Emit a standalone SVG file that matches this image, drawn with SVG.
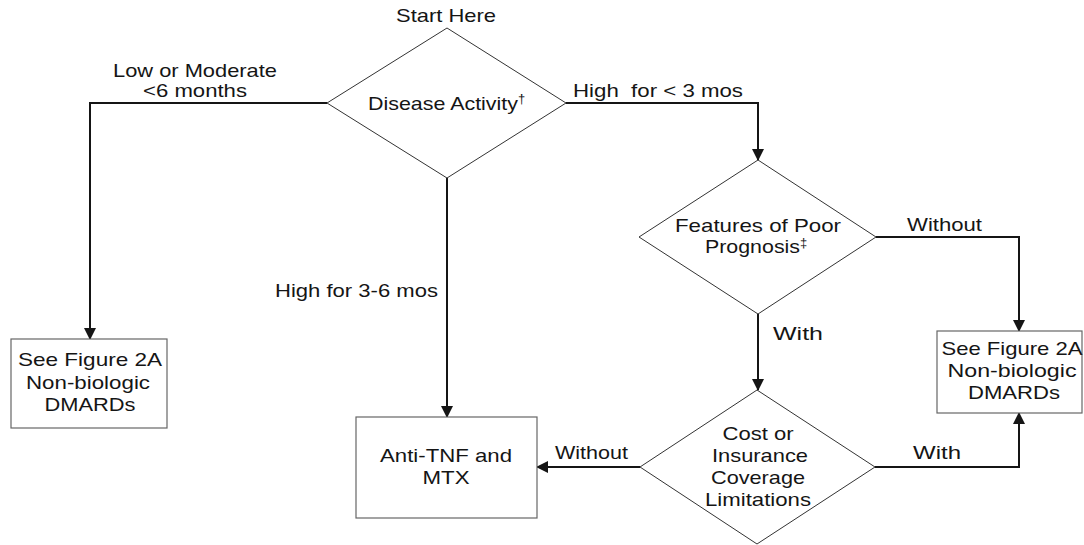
<svg xmlns="http://www.w3.org/2000/svg" width="1084" height="545" viewBox="0 0 1084 545">
  <style>
    text { font-family: "Liberation Sans", Arial, sans-serif; font-size: 19px; fill: #151515; }
    .mid { text-anchor: middle; }
    .sup { font-size: 13px; }
    .diamond { fill: #fff; stroke: #333; stroke-width: 1; }
    .box { fill: #fff; stroke: #666; stroke-width: 1.2; }
    .conn { fill: none; stroke: #151515; stroke-width: 2; }
  </style>
  <defs>
    <marker id="arrow" viewBox="0 0 12 12" refX="11" refY="6" markerWidth="12" markerHeight="13" markerUnits="userSpaceOnUse" orient="auto">
      <path d="M0,0 L12,6 L0,12 Z" fill="#151515"/>
    </marker>
  </defs>
  <rect width="1084" height="545" fill="#fff"/>

  <!-- connectors -->
  <g id="connectors">
    <path class="conn" d="M327,103 H90 V339" marker-end="url(#arrow)"/>
    <path class="conn" d="M566,103 H758 V160" marker-end="url(#arrow)"/>
    <path class="conn" d="M447,178 V417" marker-end="url(#arrow)"/>
    <path class="conn" d="M876,237 H1019 V331" marker-end="url(#arrow)"/>
    <path class="conn" d="M758,314 V390" marker-end="url(#arrow)"/>
    <path class="conn" d="M875,467 H1019 V413" marker-end="url(#arrow)"/>
    <path class="conn" d="M640,467 H537" marker-end="url(#arrow)"/>
  </g>

  <!-- connector labels -->
  <g id="labels">
    <text class="mid" x="195" y="77" textLength="164" lengthAdjust="spacingAndGlyphs">Low or Moderate</text>
    <text class="mid" x="195" y="97" textLength="104" lengthAdjust="spacingAndGlyphs">&lt;6 months</text>
    <text x="573" y="97" textLength="170" lengthAdjust="spacingAndGlyphs" xml:space="preserve">High  for &lt; 3 mos</text>
    <text x="275" y="297" textLength="163" lengthAdjust="spacingAndGlyphs">High for 3-6 mos</text>
    <text x="907" y="231" textLength="75" lengthAdjust="spacingAndGlyphs">Without</text>
    <text x="773" y="340" textLength="50" lengthAdjust="spacingAndGlyphs">With</text>
    <text x="555" y="459" textLength="73" lengthAdjust="spacingAndGlyphs">Without</text>
    <text x="913" y="459" textLength="48" lengthAdjust="spacingAndGlyphs">With</text>
  </g>

  <g id="start">
    <text class="mid" x="446" y="22" textLength="100" lengthAdjust="spacingAndGlyphs">Start Here</text>
  </g>

  <g id="disease-activity">
    <polygon class="diamond" points="447,28 566,103 447,178 327,103"/>
    <text x="368" y="110"><tspan textLength="150" lengthAdjust="spacingAndGlyphs">Disease Activity</tspan><tspan class="sup" dy="-7">†</tspan></text>
  </g>

  <g id="poor-prognosis">
    <polygon class="diamond" points="758,160 876,237 758,314 639,237"/>
    <text class="mid" x="758" y="232" textLength="166" lengthAdjust="spacingAndGlyphs">Features of Poor</text>
    <text x="705" y="253"><tspan textLength="95" lengthAdjust="spacingAndGlyphs">Prognosis</tspan><tspan class="sup" dy="-6">‡</tspan></text>
  </g>

  <g id="cost-limitations">
    <polygon class="diamond" points="757,390 875,467 757,544 640,467"/>
    <text class="mid" x="758" y="440" textLength="71" lengthAdjust="spacingAndGlyphs">Cost or</text>
    <text class="mid" x="760" y="462" textLength="96" lengthAdjust="spacingAndGlyphs">Insurance</text>
    <text class="mid" x="758" y="484" textLength="94" lengthAdjust="spacingAndGlyphs">Coverage</text>
    <text class="mid" x="758" y="506" textLength="106" lengthAdjust="spacingAndGlyphs">Limitations</text>
  </g>

  <g id="nonbiologic-left">
    <rect class="box" x="11" y="339" width="156" height="89"/>
    <text class="mid" x="90" y="366" textLength="144" lengthAdjust="spacingAndGlyphs">See Figure 2A</text>
    <text class="mid" x="88" y="389" textLength="124" lengthAdjust="spacingAndGlyphs">Non-biologic</text>
    <text class="mid" x="90" y="411" textLength="91" lengthAdjust="spacingAndGlyphs">DMARDs</text>
  </g>

  <g id="anti-tnf">
    <rect class="box" x="356" y="417" width="181" height="101"/>
    <text class="mid" x="446" y="462" textLength="132" lengthAdjust="spacingAndGlyphs">Anti-TNF and</text>
    <text class="mid" x="446" y="484" textLength="47" lengthAdjust="spacingAndGlyphs">MTX</text>
  </g>

  <g id="nonbiologic-right">
    <rect class="box" x="937" y="331" width="145" height="82"/>
    <text class="mid" x="1012" y="355" textLength="141" lengthAdjust="spacingAndGlyphs">See Figure 2A</text>
    <text class="mid" x="1012" y="377" textLength="129" lengthAdjust="spacingAndGlyphs">Non-biologic</text>
    <text class="mid" x="1014" y="399" textLength="92" lengthAdjust="spacingAndGlyphs">DMARDs</text>
  </g>
</svg>
